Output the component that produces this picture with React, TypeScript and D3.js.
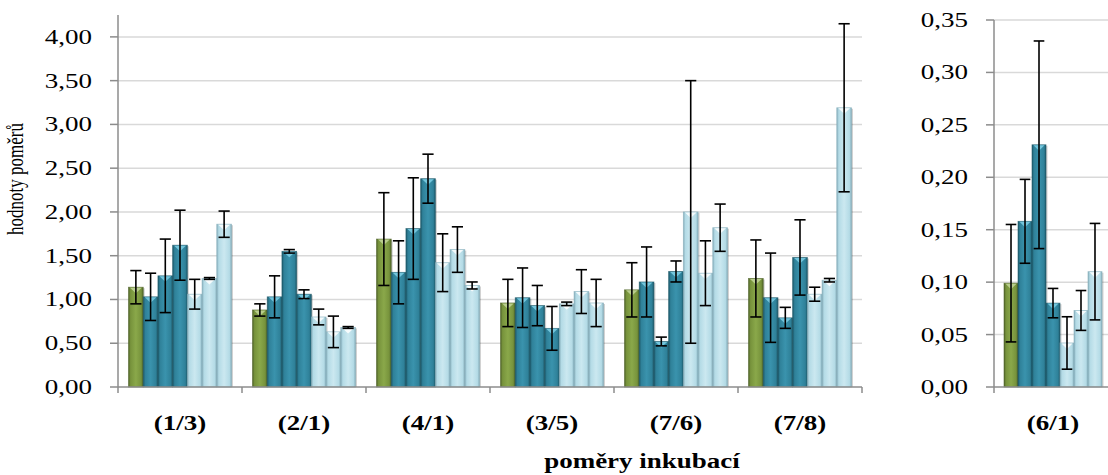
import * as d3 from "d3";

// categories and series
const groups = ["(1/3)", "(2/1)", "(4/1)", "(3/5)", "(7/6)", "(7/8)"];
const sideGroups = ["(6/1)"];
const seriesKinds = ["green", "teal", "teal", "teal", "light", "light", "light"];

// bar heights, one row per group (7 series)
const means = [
  [1.14, 1.03, 1.27, 1.62, 1.06, 1.24, 1.86],
  [0.88, 1.03, 1.55, 1.06, 0.8, 0.63, 0.68],
  [1.69, 1.31, 1.81, 2.38, 1.42, 1.57, 1.16],
  [0.96, 1.02, 0.93, 0.67, 0.95, 1.09, 0.96],
  [1.11, 1.2, 0.52, 1.32, 2.0, 1.3, 1.82],
  [1.24, 1.02, 0.79, 1.48, 1.06, 1.22, 3.19],
];
const errors = [
  [0.19, 0.27, 0.42, 0.4, 0.17, 0.01, 0.15],
  [0.07, 0.24, 0.02, 0.05, 0.09, 0.18, 0.01],
  [0.53, 0.36, 0.58, 0.28, 0.33, 0.26, 0.04],
  [0.27, 0.34, 0.23, 0.25, 0.02, 0.25, 0.27],
  [0.31, 0.4, 0.05, 0.12, 1.5, 0.37, 0.27],
  [0.44, 0.51, 0.12, 0.43, 0.08, 0.02, 0.96],
];
const sideMeans = [[0.099, 0.158, 0.231, 0.08, 0.042, 0.073, 0.11]];
const sideErrors = [[0.056, 0.04, 0.099, 0.014, 0.025, 0.019, 0.046]];

const leftTicks = [0, 0.5, 1, 1.5, 2, 2.5, 3, 3.5, 4];
const rightTicks = [0, 0.05, 0.1, 0.15, 0.2, 0.25, 0.3, 0.35];

const palette: Record<string, { base: string; edge: string; mid: string; tip: string }> = {
  green: { base: "#77933c", edge: "#4f6228", mid: "#8aa84a", tip: "#c3d69b" },
  teal: { base: "#2f8199", edge: "#1d5868", mid: "#3a93ad", tip: "#7fd0e6" },
  light: { base: "#b4dbe6", edge: "#86aebb", mid: "#cbe8f0", tip: "#ffffff" },
};

const FONT = "'Liberation Serif', 'Times New Roman', serif";
const STRETCH = 1.35;
const fmt = (v: number) => d3.format(".2f")(v).replace(".", ",");

interface PanelProps {
  cats: string[];
  vals: number[][];
  errs: number[][];
  ticks: number[];
  x0: number;
  x1: number;
  top: number;
  zero: number;
  max: number;
}

function Panel({ cats, vals, errs, ticks, x0, x1, top, zero, max }: PanelProps) {
  const x = d3.scaleBand<string>().domain(cats).range([x0, x1]);
  const inner = d3
    .scaleBand<number>()
    .domain(d3.range(seriesKinds.length))
    .range([0, x.bandwidth()])
    .paddingInner(0)
    .paddingOuter(0.715);
  const y = d3.scaleLinear().domain([0, max]).range([zero, top]);
  const bw = inner.bandwidth();
  const cap = bw * 0.38;

  return (
    <g>
      {ticks.map((t) => (
        <g key={t}>
          {t > 0 ? (
            <line x1={x0} x2={Math.min(x1, 1108)} y1={y(t)} y2={y(t)} stroke="#d9d9d9" strokeWidth={1.5} />
          ) : null}
          <line x1={x0 - 8} x2={x0} y1={y(t)} y2={y(t)} stroke="#8c8c8c" strokeWidth={1.5} />
          <text
            transform={`translate(${x0 - 26},${y(t)}) scale(${STRETCH},1)`}
            dy="0.35em"
            textAnchor="end"
            fontFamily={FONT}
            fontSize={20}
            fill="#000"
          >
            {fmt(t)}
          </text>
        </g>
      ))}

      {cats.map((c, gi) => (
        <g key={c}>
          {vals[gi].map((v, si) => {
            const kind = seriesKinds[si];
            const bx = (x(c) ?? 0) + (inner(si) ?? 0);
            const by = y(v);
            const h = zero - by;
            return (
              <g key={si}>
                <rect x={bx + 1.5} y={by + 1} width={bw} height={h - 1} fill="rgba(0,0,0,0.18)" />
                <rect
                  x={bx}
                  y={by}
                  width={bw}
                  height={h}
                  fill={`url(#grad-${kind})`}
                  stroke={palette[kind].edge}
                  strokeOpacity={0.7}
                  strokeWidth={0.8}
                />
                <path
                  d={`M${bx + 1.5},${by + 0.5} L${bx + bw - 1.5},${by + 0.5} L${bx + bw / 2},${by + Math.min(6, h)} Z`}
                  fill={palette[kind].tip}
                  opacity={0.85}
                />
              </g>
            );
          })}
          {vals[gi].map((v, si) => {
            const cx = (x(c) ?? 0) + (inner(si) ?? 0) + bw / 2;
            const e = errs[gi][si];
            const yt = y(v + e);
            const yb = y(Math.max(0, v - e));
            return (
              <g key={`e${si}`} stroke="#000" strokeWidth={1.6}>
                <line x1={cx} x2={cx} y1={yt} y2={yb} />
                <line x1={cx - cap} x2={cx + cap} y1={yt} y2={yt} />
                <line x1={cx - cap} x2={cx + cap} y1={yb} y2={yb} />
              </g>
            );
          })}
          <text
            transform={`translate(${(x(c) ?? 0) + x.bandwidth() / 2},${zero + 43}) scale(${STRETCH},1)`}
            textAnchor="middle"
            fontFamily={FONT}
            fontWeight="bold"
            fontSize={20}
          >
            {c}
          </text>
        </g>
      ))}

      {/* axes */}
      <line x1={x0} x2={x0} y1={top} y2={zero + 6} stroke="#8c8c8c" strokeWidth={1.5} />
      <line x1={x0} x2={Math.min(x1, 1108)} y1={zero} y2={zero} stroke="#8c8c8c" strokeWidth={1.5} />
      {cats.map((c) => (
        <line
          key={`t${c}`}
          x1={(x(c) ?? 0) + x.bandwidth()}
          x2={(x(c) ?? 0) + x.bandwidth()}
          y1={zero}
          y2={zero + 6}
          stroke="#8c8c8c"
          strokeWidth={1.5}
        />
      ))}
    </g>
  );
}

export default function App() {
  const width = 1108;
  const height = 475;
  return (
    <svg
      width={width}
      height={height}
      viewBox={`0 0 ${width} ${height}`}
      style={{ position: "absolute", left: 0, top: 0, display: "block", background: "#fff" }}
    >
      <defs>
        {Object.entries(palette).map(([k, p]) => (
          <linearGradient key={k} id={`grad-${k}`} x1="0" x2="1" y1="0" y2="0">
            <stop offset="0" stopColor={p.edge} />
            <stop offset="0.14" stopColor={p.base} />
            <stop offset="0.5" stopColor={p.mid} />
            <stop offset="0.86" stopColor={p.base} />
            <stop offset="1" stopColor={p.edge} />
          </linearGradient>
        ))}
      </defs>
      <rect width={width} height={height} fill="#fff" />

      <Panel cats={groups} vals={means} errs={errors} ticks={leftTicks} x0={118} x1={862} top={15} zero={387} max={4.25} />
      <Panel cats={sideGroups} vals={sideMeans} errs={sideErrors} ticks={rightTicks} x0={994} x1={1112} top={20} zero={387} max={0.35} />

      <text
        transform={`translate(23,179) scale(1.35,1) rotate(-90)`}
        textAnchor="middle"
        fontFamily={FONT}
        fontSize={17}
      >
        hodnoty poměrů
      </text>
      <text
        transform={`translate(642,468) scale(${STRETCH},1)`}
        textAnchor="middle"
        fontFamily={FONT}
        fontWeight="bold"
        fontSize={20}
      >
        poměry inkubací
      </text>
    </svg>
  );
}
